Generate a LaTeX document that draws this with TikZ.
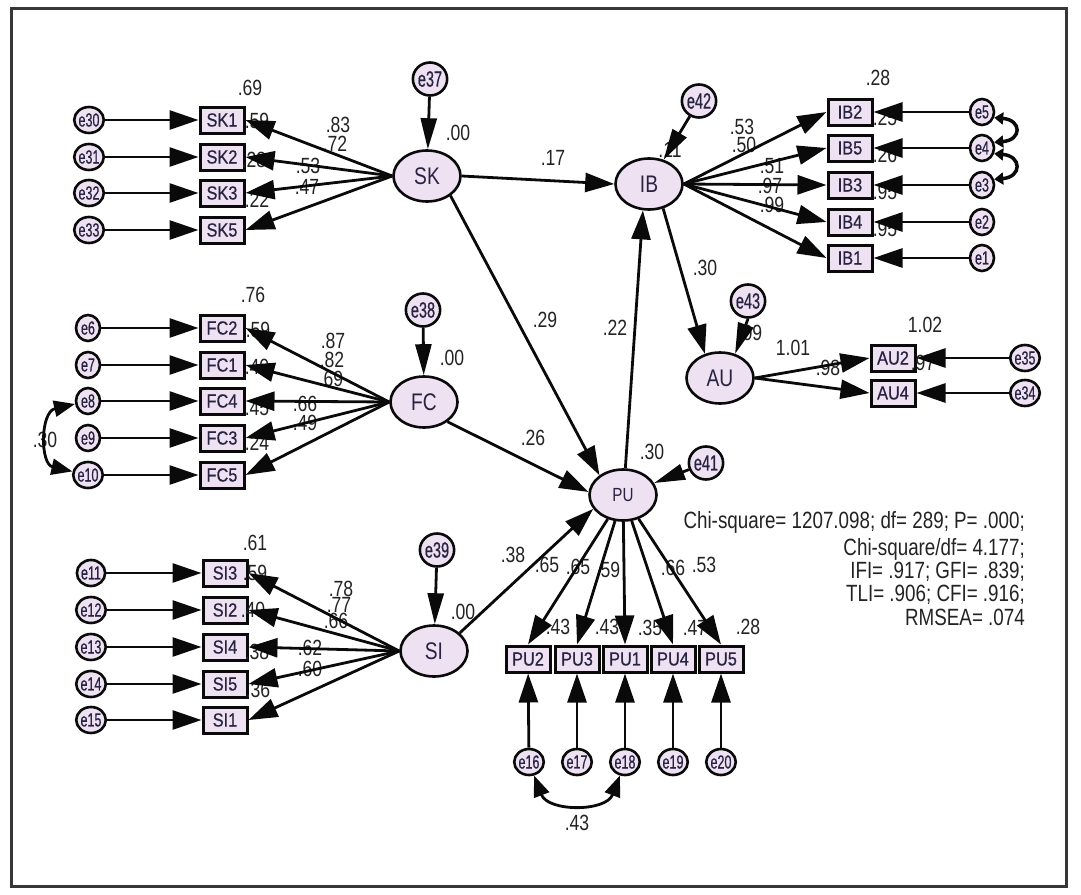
\documentclass[tikz,border=0pt]{standalone}
\usepackage{fontspec}
\setmainfont{Liberation Sans}
\newfontfamily\labfont[FakeStretch=0.8]{Liberation Sans}
\newfontfamily\boxfont[FakeStretch=0.86,FakeBold=0.6]{Liberation Sans}
\newfontfamily\errfont[FakeStretch=0.66,FakeBold=0.6]{Liberation Sans}
\usetikzlibrary{arrows.meta,shapes.geometric}
\definecolor{nfill}{RGB}{238,226,242}
\definecolor{ink}{RGB}{10,10,10}
\definecolor{txt}{RGB}{35,35,35}
\definecolor{ntxt}{RGB}{40,35,65}
\definecolor{framec}{RGB}{55,55,55}
\tikzset{
  lat/.style={ellipse, draw=ink, line width=2.6pt, fill=nfill, minimum width=67pt, minimum height=51pt, inner sep=0pt, text=ntxt, font=\labfont\fontsize{24}{24}\selectfont},
  obs/.style={rectangle, draw=ink, line width=3pt, fill=nfill, minimum width=44pt, minimum height=26pt, inner sep=0pt, text=ntxt, font=\boxfont\fontsize{19}{19}\selectfont},
  err/.style={ellipse, draw=ink, line width=2.6pt, fill=nfill, minimum width=24pt, minimum height=26pt, inner sep=0pt, text=ntxt, font=\errfont\fontsize{19}{19}\selectfont},
  bigerr/.style={err, minimum width=34pt, minimum height=33pt, font=\errfont\fontsize{22}{22}\selectfont},
  lab/.style={inner sep=0pt, text=txt, font=\labfont\fontsize{22}{22}\selectfont},
  arr/.style={draw=ink, line width=2.8pt, -{Triangle[length=29pt,width=19pt]}},
  earr/.style={draw=ink, line width=2.8pt, -{Triangle[length=31pt,width=16pt]}},
  cov/.style={draw=ink, line width=2.8pt, {Triangle[length=21pt,width=16pt]}-{Triangle[length=21pt,width=16pt]}},
  smallcov/.style={draw=ink, line width=3.5pt, {Triangle[length=9pt,width=12pt]}-{Triangle[length=9pt,width=12pt]}},
  fitline/.style={inner sep=0pt, anchor=base east, text=txt, font=\labfont\fontsize{23.5}{23.5}\selectfont}
}
\begin{document}
\begin{tikzpicture}[x=1pt,y=-1pt]
\useasboundingbox (0,0) rectangle (1081,894);
\draw[framec, line width=3pt] (11.5,8) rectangle (1066,886);

% ---------- SK block ----------
\node[lat] (SK) at (427,176) {SK};
\node[bigerr] (e37) at (430,79) {e37};
\node[obs] (SK1) at (222,120) {SK1};
\node[obs] (SK2) at (222,157) {SK2};
\node[obs] (SK3) at (222,193) {SK3};
\node[obs] (SK5) at (222,230) {SK5};
\node[err] (e30) at (89,120) {e30};
\node[err] (e31) at (89,157) {e31};
\node[err] (e32) at (89,193) {e32};
\node[err] (e33) at (89,230) {e33};

% ---------- FC block ----------
\node[lat] (FC) at (424,402) {FC};
\node[bigerr] (e38) at (423,310) {e38};
\node[obs] (FC2) at (222,328) {FC2};
\node[obs] (FC1) at (222,365) {FC1};
\node[obs] (FC4) at (222,401) {FC4};
\node[obs] (FC3) at (222,438) {FC3};
\node[obs] (FC5) at (222,475) {FC5};
\node[err] (e6) at (88,328) {e6};
\node[err] (e7) at (88,365) {e7};
\node[err] (e8) at (88,401) {e8};
\node[err] (e9) at (88,438) {e9};
\node[err] (e10) at (88,475) {e10};

% ---------- SI block ----------
\node[lat] (SI) at (434,651) {SI};
\node[bigerr] (e39) at (437,550) {e39};
\node[obs] (SI3) at (225,573) {SI3};
\node[obs] (SI2) at (225,610) {SI2};
\node[obs] (SI4) at (225,647) {SI4};
\node[obs] (SI5) at (225,684) {SI5};
\node[obs] (SI1) at (225,720) {SI1};
\node[err] (e11) at (91,573) {e11};
\node[err] (e12) at (91,610) {e12};
\node[err] (e13) at (91,647) {e13};
\node[err] (e14) at (91,684) {e14};
\node[err] (e15) at (91,720) {e15};

% ---------- IB block ----------
\node[lat] (IB) at (649,184) {IB};
\node[bigerr] (e42) at (699,101) {e42};
\node[obs] (IB2) at (850,112) {IB2};
\node[obs] (IB5) at (850,148) {IB5};
\node[obs] (IB3) at (850,185) {IB3};
\node[obs] (IB4) at (850,222) {IB4};
\node[obs] (IB1) at (850,258) {IB1};
\node[err] (e5) at (982,112) {e5};
\node[err] (e4) at (982,148) {e4};
\node[err] (e3) at (982,185) {e3};
\node[err] (e2) at (982,222) {e2};
\node[err] (e1) at (982,258) {e1};

% ---------- AU block ----------
\node[lat] (AU) at (720,378) {AU};
\node[bigerr] (e43) at (748,301) {e43};
\node[obs] (AU2) at (893,358) {AU2};
\node[obs] (AU4) at (893,393) {AU4};
\node[err] (e35) at (1025,358) {e35};
\node[err] (e34) at (1025,393) {e34};

% ---------- PU block ----------
\node[lat, font=\labfont\fontsize{19}{19}\selectfont] (PU) at (623,495) {PU};
\node[bigerr] (e41) at (706,463) {e41};
\node[obs] (PU2) at (528,659) {PU2};
\node[obs] (PU3) at (577,659) {PU3};
\node[obs] (PU1) at (625,659) {PU1};
\node[obs] (PU4) at (673,659) {PU4};
\node[obs] (PU5) at (721,659) {PU5};
\node[err] (e16) at (529,762) {e16};
\node[err] (e17) at (577,762) {e17};
\node[err] (e18) at (625,762) {e18};
\node[err] (e19) at (673,762) {e19};
\node[err] (e20) at (721,762) {e20};

% ---------- labels ----------
\node[lab] (lSK1r) at (250,88) {.69};
\node[lab] (lSKr) at (458,133) {.00};
\node[lab] (lSK1) at (338,125) {.83};
\node[lab] (lSK2) at (335,144) {.72};
\node[lab] (lSK3) at (308,166) {.53};
\node[lab] (lSK5) at (307,187) {.47};
\node[lab] (lSK2r) at (257,121) {.59};
\node[lab] (lSK3r) at (254,160) {.28};
\node[lab] (lSK5r) at (257,200) {.22};

\node[lab] (lFC2r) at (253,295) {.76};
\node[lab] (lFCr) at (452,358) {.00};
\node[lab] (lFC2) at (333,341) {.87};
\node[lab] (lFC1) at (332,360) {.82};
\node[lab] (lFC4) at (331,379) {.69};
\node[lab] (lFC3) at (305,404) {.66};
\node[lab] (lFC5) at (305,423) {.49};
\node[lab] (lFC1r) at (258,330) {.59};
\node[lab] (lFC4r) at (257,367) {.40};
\node[lab] (lFC3r) at (257,408) {.45};
\node[lab] (lFC5r) at (257,443) {.24};
\node[lab] (lcovFC) at (45,440) {.30};

\node[lab] (lSI3r) at (255,543) {.61};
\node[lab] (lSIr) at (463,612) {.00};
\node[lab] (lSI3) at (341,589) {.78};
\node[lab] (lSI2) at (339,605) {.77};
\node[lab] (lSI4) at (336,621) {.66};
\node[lab] (lSI5) at (310,648) {.62};
\node[lab] (lSI1) at (310,669) {.60};
\node[lab] (lSI2r) at (255,573) {.59};
\node[lab] (lSI4r) at (253,610) {.40};
\node[lab] (lSI5r) at (257,652) {.38};
\node[lab] (lSI1r) at (258,690) {.36};

\node[lab] (lIBr) at (670,150) {.11};
\node[lab] (lIB2r) at (878,78) {.28};
\node[lab] (lIB2) at (742,127) {.53};
\node[lab] (lIB5) at (744,145) {.50};
\node[lab] (lIB3) at (772,166) {.51};
\node[lab] (lIB4) at (770,186) {.97};
\node[lab] (lIB1) at (772,205) {.99};
\node[lab] (lIB5r) at (885,118) {.25};
\node[lab] (lIB3r) at (885,155) {.26};
\node[lab] (lIB4r) at (885,192) {.95};
\node[lab] (lIB1r) at (885,229) {.95};

\node[lab] (lIBAU) at (705,268) {.30};
\node[lab] (lAUr) at (750,333) {.09};
\node[lab] (lAU2) at (793,348) {1.01};
\node[lab] (lAU4) at (828,368) {.98};
\node[lab] (lAU2r) at (925,325) {1.02};
\node[lab] (lAU4r) at (923,363) {.97};

\node[lab] (lPUr) at (652,452) {.30};
\node[lab] (lSKPU) at (545,320) {.29};
\node[lab] (lPUIB) at (615,328) {.22};
\node[lab] (lSKIB) at (553,158) {.17};
\node[lab] (lFCPU) at (533,438) {.26};
\node[lab] (lSIPU) at (513,555) {.38};
\node[lab] (lPU2) at (547,565) {.65};
\node[lab] (lPU3) at (578,567) {.65};
\node[lab] (lPU1) at (608,570) {.59};
\node[lab] (lPU4) at (673,568) {.66};
\node[lab] (lPU5) at (704,565) {.53};
\node[lab] (lPU2r) at (558,627) {.43};
\node[lab] (lPU3r) at (607,627) {.43};
\node[lab] (lPU1r) at (650,628) {.35};
\node[lab] (lPU4r) at (695,628) {.47};
\node[lab] (lPU5r) at (748,627) {.28};
\node[lab] (lcovPU) at (577,823) {.43};

\node[fitline] (fit1) at (1025,528) {Chi-square= 1207.098; df= 289; P= .000;};
\node[fitline] (fit2) at (1025,555) {Chi-square/df= 4.177;};
\node[fitline] (fit3) at (1025,578) {IFI= .917; GFI= .839;};
\node[fitline] (fit4) at (1025,601) {TLI= .906; CFI= .916;};
\node[fitline] (fit5) at (1025,625) {RMSEA= .074};

% ---------- connectors: SK ----------
\foreach \b in {SK1,SK2,SK3,SK5}{\draw[arr] (SK.west) -- (\b.east);}
\draw[arr] (e30) -- (SK1);
\draw[arr] (e31) -- (SK2);
\draw[arr] (e32) -- (SK3);
\draw[arr] (e33) -- (SK5);
\draw[earr] (e37) -- (SK);

% ---------- connectors: FC ----------
\foreach \b in {FC2,FC1,FC4,FC3,FC5}{\draw[arr] (FC.west) -- (\b.east);}
\draw[arr] (e6) -- (FC2);
\draw[arr] (e7) -- (FC1);
\draw[arr] (e8) -- (FC4);
\draw[arr] (e9) -- (FC3);
\draw[arr] (e10) -- (FC5);
\draw[earr] (e38) -- (FC);
\draw[cov] (e8) .. controls (40,412) and (40,464) .. (e10);

% ---------- connectors: SI ----------
\foreach \b in {SI3,SI2,SI4,SI5,SI1}{\draw[arr] (SI.west) -- (\b.east);}
\draw[arr] (e11) -- (SI3);
\draw[arr] (e12) -- (SI2);
\draw[arr] (e13) -- (SI4);
\draw[arr] (e14) -- (SI5);
\draw[arr] (e15) -- (SI1);
\draw[earr] (e39) -- (SI);

% ---------- connectors: IB ----------
\foreach \b in {IB2,IB5,IB3,IB4,IB1}{\draw[arr] (IB.east) -- (\b.west);}
\draw[arr] (e5) -- (IB2);
\draw[arr] (e4) -- (IB5);
\draw[arr] (e3) -- (IB3);
\draw[arr] (e2) -- (IB4);
\draw[arr] (e1) -- (IB1);
\draw[earr] (e42) -- (IB);
\draw[smallcov] (e5.-25) .. controls (1022,120) and (1022,140) .. (e4.25);
\draw[smallcov] (e4.-25) .. controls (1022,156) and (1022,177) .. (e3.25);

% ---------- connectors: AU ----------
\draw[arr] (AU.east) -- (AU2.west);
\draw[arr] (AU.east) -- (AU4.west);
\draw[arr] (e35) -- (AU2);
\draw[arr] (e34) -- (AU4);
\draw[earr] (e43.south) -- (AU.58);
\draw[arr] (IB.-60) -- (AU.122);

% ---------- connectors: structural ----------
\draw[arr] (SK.east) -- (IB.west);
\draw[arr] (SK.-40) -- (PU.140);
\draw[arr] (FC.-40) -- (PU.175);
\draw[arr] (SI.35) -- (PU.205);
\draw[arr] (PU.85) -- (IB.-103);
\draw[earr] (e41) -- (PU);

% ---------- connectors: PU ----------
\foreach \b in {PU2,PU3,PU1,PU4,PU5}{\draw[arr] (PU) -- (\b.north);}
\draw[arr] (e16) -- (PU2);
\draw[arr] (e17) -- (PU3);
\draw[arr] (e18) -- (PU1);
\draw[arr] (e19) -- (PU4);
\draw[arr] (e20) -- (PU5);
\draw[cov] (e16) .. controls (548,812) and (606,812) .. (e18);
\end{tikzpicture}
\end{document}
